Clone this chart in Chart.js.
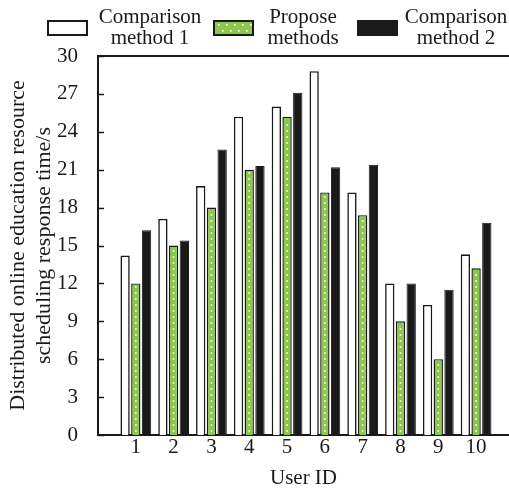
<!DOCTYPE html>
<html>
<head>
<meta charset="utf-8">
<script src="https://cdn.jsdelivr.net/npm/chart.js@4/dist/chart.umd.min.js"></script>
<style>
  html, body { margin: 0; padding: 0; background: #ffffff; }
  canvas { display: block; }
</style>
</head>
<body>
<canvas id="c" width="509" height="493"></canvas>
<script>
// ---- data ----
const userIds = [1, 2, 3, 4, 5, 6, 7, 8, 9, 10];
const comparison1 = [14.2, 17.1, 19.7, 25.2, 26.0, 28.8, 19.2, 12.0, 10.3, 14.3];
const proposed    = [12.0, 15.0, 18.0, 21.0, 25.2, 19.2, 17.4, 9.0, 6.0, 13.2];
const comparison2 = [16.2, 15.4, 22.6, 21.3, 27.1, 21.2, 21.4, 12.0, 11.5, 16.8];
const seriesNames = [['Comparison', 'method 1'], ['Propose', 'methods'], ['Comparison', 'method 2']];
const yTicks = [0, 3, 6, 9, 12, 15, 18, 21, 24, 27, 30];
const xTitle = 'User ID';
const yTitle = ['Distributed online education resource', 'scheduling response time/s'];

// ---- styles ----
const INK = '#1a1a1a';
const GREEN = '#8dc84c';
const FONT = 'Liberation Serif, Times New Roman, serif';

function pts(vals) { return userIds.map((id, i) => ({ x: id, y: vals[i] })); }

const legendPlugin = {
  id: 'customLegend',
  afterDraw(chart) {
    const ctx = chart.ctx;
    const fills = ['#ffffff', GREEN, INK];
    const boxX = [48, 214, 358];
    const textX = [150, 303, 456];
    ctx.save();
    for (let i = 0; i < 3; i++) {
      ctx.fillStyle = fills[i];
      ctx.fillRect(boxX[i], 21, 39, 14);
      ctx.lineWidth = 2;
      ctx.strokeStyle = INK;
      ctx.strokeRect(boxX[i], 21, 39, 14);
      if (i === 1) {
        ctx.fillStyle = '#ffffff';
        for (let r = 0; r < 2; r++) {
          for (let k = 0; k < 5; k++) {
            ctx.fillRect(boxX[i] + 4 + k * 8 + (r ? 4 : 0), 24 + r * 6, 1.6, 1.6);
          }
        }
      }
      ctx.fillStyle = INK;
      ctx.font = '21px ' + FONT;
      ctx.textAlign = 'center';
      ctx.textBaseline = 'alphabetic';
      ctx.fillText(seriesNames[i][0], textX[i], 23);
      ctx.fillText(seriesNames[i][1], textX[i], 44);
    }
    ctx.restore();
  }
};

const framePlugin = {
  id: 'frame',
  afterDatasetsDraw(chart) {
    const ctx = chart.ctx;
    // dots on proposed bars
    const meta = chart.getDatasetMeta(1);
    ctx.save();
    ctx.fillStyle = '#ffffff';
    meta.data.forEach(bar => {
      for (let y = bar.base - 4; y > bar.y + 3; y -= 6) {
        ctx.fillRect(bar.x - 0.8, y - 0.8, 1.6, 1.6);
      }
    });
    ctx.restore();
  },
  afterDraw(chart) {
    const ctx = chart.ctx;
    const a = chart.chartArea;
    const ys = chart.scales.y;
    ctx.save();
    ctx.strokeStyle = INK;
    ctx.lineWidth = 2;
    ctx.beginPath();
    ctx.moveTo(a.left, a.top);
    ctx.lineTo(a.right, a.top);
    ctx.stroke();
    ctx.lineWidth = 1.5;
    ys.ticks.forEach(t => {
      const py = Math.round(ys.getPixelForValue(t.value)) + 0.5;
      ctx.beginPath();
      ctx.moveTo(a.left, py);
      ctx.lineTo(a.left + 6, py);
      ctx.stroke();
    });
    ctx.restore();
  }
};

new Chart(document.getElementById('c'), {
  type: 'bar',
  data: {
    datasets: [
      { label: seriesNames[0].join(' '), data: pts(comparison1), backgroundColor: '#ffffff', borderColor: INK, borderWidth: 1.6 },
      { label: seriesNames[1].join(' '), data: pts(proposed), backgroundColor: GREEN, borderColor: INK, borderWidth: 1.4 },
      { label: seriesNames[2].join(' '), data: pts(comparison2), backgroundColor: INK, borderColor: INK, borderWidth: 1 }
    ]
  },
  options: {
    responsive: false,
    animation: false,
    devicePixelRatio: 1,
    categoryPercentage: 0.85,
    barPercentage: 0.87,
    layout: { padding: { top: 56, left: 0, right: 0, bottom: 0 } },
    plugins: { legend: { display: false }, tooltip: { enabled: false } },
    scales: {
      x: {
        type: 'linear',
        offset: false,
        min: 0,
        max: 10.87,
        grid: { display: false, drawTicks: false, offset: false },
        border: { display: true, color: INK, width: 2 },
        afterBuildTicks: s => { s.ticks = userIds.map(v => ({ value: v })); },
        afterFit: s => { s.height = 58; },
        ticks: { color: INK, font: { family: FONT, size: 21 }, padding: 0, maxRotation: 0, autoSkip: false },
        title: { display: true, text: xTitle, color: INK, font: { family: FONT, size: 21, lineHeight: 1.2 }, padding: { top: 0, bottom: 2 } }
      },
      y: {
        min: 0,
        max: 30,
        grid: { display: false, drawTicks: false },
        border: { display: true, color: INK, width: 2 },
        afterBuildTicks: s => { s.ticks = yTicks.map(v => ({ value: v })); },
        afterFit: s => { s.width = 98; },
        ticks: { color: INK, font: { family: FONT, size: 21 }, padding: 20, autoSkip: false },
        title: { display: true, text: yTitle, color: INK, font: { family: FONT, size: 22, lineHeight: 1.15 }, padding: { top: 6, bottom: 0 } }
      }
    }
  },
  plugins: [legendPlugin, framePlugin]
});
</script>
</body>
</html>
